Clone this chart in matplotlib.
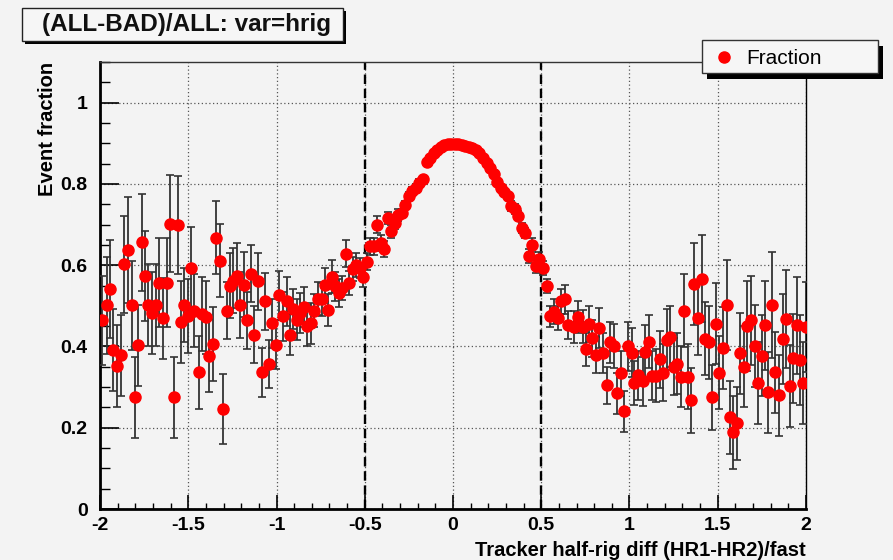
import matplotlib
matplotlib.use('Agg')
import matplotlib.pyplot as plt
from matplotlib.patches import Rectangle
from matplotlib.lines import Line2D
from matplotlib.ticker import MultipleLocator, FuncFormatter

plt.rcParams['font.family'] = ['Liberation Sans', 'DejaVu Sans']
plt.rcParams['axes.unicode_minus'] = False

# fraction per bin of hrig, with statistical errors
xval = [-1.987, -1.962, -1.943, -1.925, -1.902, -1.881, -1.862, -1.843, -1.820, -1.802,
        -1.783, -1.764, -1.745, -1.726, -1.704, -1.681, -1.666, -1.641, -1.622, -1.605,
        -1.582, -1.560, -1.543, -1.524, -1.500, -1.483, -1.466, -1.441, -1.420, -1.400,
        -1.381, -1.361, -1.343, -1.320, -1.301, -1.282, -1.263, -1.245, -1.226, -1.207,
        -1.182, -1.165, -1.144, -1.126, -1.103, -1.084, -1.063, -1.042, -1.024, -1.003,
        -0.984, -0.965, -0.942, -0.924, -0.905, -0.886, -0.867, -0.844, -0.825, -0.805,
        -0.786, -0.767, -0.744, -0.725, -0.707, -0.687, -0.669, -0.646, -0.627, -0.606,
        -0.588, -0.568, -0.550, -0.527, -0.510,
        -0.49, -0.47, -0.45, -0.43, -0.41, -0.39, -0.37, -0.35, -0.33, -0.31,
        -0.29, -0.27, -0.25, -0.23, -0.21, -0.19, -0.17, -0.15, -0.13, -0.11,
        -0.09, -0.07, -0.05, -0.03, -0.01, 0.01, 0.03, 0.05, 0.07, 0.09,
        0.11, 0.13, 0.15, 0.17, 0.19, 0.21, 0.23, 0.25, 0.27, 0.29,
        0.31, 0.33, 0.35, 0.37, 0.39, 0.41, 0.43, 0.45, 0.47, 0.49,
        0.51, 0.53,
        0.550, 0.572, 0.597, 0.610, 0.635, 0.653, 0.683, 0.710, 0.738, 0.752,
        0.769, 0.790, 0.809, 0.828, 0.850, 0.871, 0.890, 0.913, 0.930, 0.951,
        0.971, 0.989, 1.012, 1.026, 1.050, 1.074, 1.088, 1.112, 1.130, 1.149,
        1.170, 1.192, 1.210, 1.232, 1.252, 1.271, 1.290, 1.309, 1.331, 1.350,
        1.365, 1.390, 1.409, 1.426, 1.452, 1.467, 1.489, 1.507, 1.527, 1.551,
        1.568, 1.588, 1.611, 1.626, 1.649, 1.666, 1.687, 1.710, 1.728, 1.748,
        1.768, 1.786, 1.806, 1.825, 1.849, 1.870, 1.887, 1.907, 1.926, 1.947,
        1.966, 1.985, 1.999]

frac = [0.464, 0.501, 0.541, 0.391, 0.352, 0.378, 0.602, 0.638, 0.501, 0.275,
        0.403, 0.656, 0.573, 0.502, 0.482, 0.502, 0.557, 0.469, 0.557, 0.702,
        0.275, 0.699, 0.460, 0.502, 0.475, 0.594, 0.488, 0.336, 0.480, 0.472,
        0.377, 0.406, 0.668, 0.611, 0.246, 0.488, 0.549, 0.562, 0.574, 0.502,
        0.552, 0.464, 0.579, 0.429, 0.560, 0.336, 0.511, 0.357, 0.457, 0.404,
        0.526, 0.474, 0.511, 0.429, 0.492, 0.466, 0.482, 0.497, 0.451, 0.457,
        0.488, 0.518, 0.516, 0.552, 0.490, 0.572, 0.548, 0.531, 0.544, 0.628,
        0.556, 0.590, 0.601, 0.593, 0.572,
        0.609, 0.646, 0.646, 0.700, 0.654, 0.640, 0.716, 0.683, 0.704, 0.724,
        0.728, 0.749, 0.771, 0.782, 0.790, 0.802, 0.812, 0.853, 0.864, 0.875,
        0.884, 0.890, 0.895, 0.897, 0.898, 0.898, 0.897, 0.896, 0.894, 0.891,
        0.888, 0.883, 0.876, 0.864, 0.851, 0.838, 0.825, 0.805, 0.790, 0.779,
        0.770, 0.745, 0.738, 0.722, 0.691, 0.679, 0.623, 0.650, 0.599, 0.615,
        0.593, 0.549,
        0.474, 0.486, 0.470, 0.511, 0.516, 0.453, 0.448, 0.472, 0.449, 0.393,
        0.455, 0.420, 0.379, 0.445, 0.384, 0.304, 0.410, 0.401, 0.285, 0.334,
        0.240, 0.400, 0.385, 0.310, 0.329, 0.314, 0.387, 0.412, 0.328, 0.328,
        0.368, 0.335, 0.417, 0.424, 0.350, 0.357, 0.326, 0.488, 0.326, 0.268,
        0.554, 0.470, 0.567, 0.419, 0.410, 0.275, 0.456, 0.335, 0.396, 0.502,
        0.226, 0.189, 0.211, 0.383, 0.350, 0.450, 0.464, 0.401, 0.310, 0.377,
        0.452, 0.287, 0.502, 0.336, 0.280, 0.418, 0.468, 0.303, 0.371, 0.452,
        0.367, 0.310, 0.448]

ferr = [0.11, 0.12, 0.12, 0.10, 0.10, 0.10, 0.12, 0.13, 0.11, 0.10,
        0.10, 0.12, 0.11, 0.10, 0.10, 0.10, 0.11, 0.10, 0.11, 0.12,
        0.10, 0.12, 0.10, 0.09, 0.09, 0.10, 0.09, 0.09, 0.09, 0.09,
        0.09, 0.09, 0.09, 0.09, 0.085, 0.07, 0.08, 0.08, 0.08, 0.08,
        0.08, 0.07, 0.07, 0.07, 0.07, 0.06, 0.07, 0.06, 0.06, 0.06,
        0.06, 0.06, 0.06, 0.05, 0.05, 0.05, 0.05, 0.05, 0.05, 0.05,
        0.04, 0.04, 0.04, 0.04, 0.04, 0.04, 0.035, 0.035, 0.03, 0.033,
        0.03, 0.03, 0.03, 0.025, 0.025,
        0.02, 0.02, 0.02, 0.02, 0.02, 0.02, 0.015, 0.015, 0.015, 0.015,
        0.01, 0.01, 0.01, 0.01, 0.01, 0.01, 0.005, 0.005, 0.005, 0.005,
        0.005, 0.005, 0.005, 0.005, 0.005, 0.005, 0.005, 0.005, 0.005, 0.005,
        0.005, 0.005, 0.005, 0.005, 0.008, 0.008, 0.008, 0.008, 0.008, 0.008,
        0.008, 0.012, 0.012, 0.012, 0.012, 0.012, 0.018, 0.018, 0.018, 0.018,
        0.018, 0.018,
        0.025, 0.03, 0.03, 0.03, 0.035, 0.035, 0.04, 0.04, 0.04, 0.04,
        0.045, 0.045, 0.045, 0.05, 0.05, 0.045, 0.05, 0.055, 0.05, 0.055,
        0.05, 0.06, 0.06, 0.055, 0.06, 0.06, 0.065, 0.065, 0.06, 0.065,
        0.07, 0.07, 0.075, 0.075, 0.07, 0.075, 0.075, 0.09, 0.08, 0.08,
        0.10, 0.09, 0.107, 0.09, 0.09, 0.08, 0.10, 0.09, 0.10, 0.11,
        0.09, 0.09, 0.09, 0.10, 0.10, 0.11, 0.11, 0.10, 0.10, 0.10,
        0.11, 0.10, 0.13, 0.10, 0.10, 0.11, 0.12, 0.10, 0.11, 0.12,
        0.11, 0.10, 0.11]

cut_lo = -0.5
cut_hi = 0.5

W, H = 893, 560
bg = '#f3f3f3'

def fx(px):
    return px / W

def fy(py):
    return 1 - py / H

fig = plt.figure(figsize=(W / 100, H / 100), dpi=100, facecolor=bg)
ax = fig.add_axes([fx(100), fy(509), fx(706), 447 / H])
ax.set_facecolor(bg)

ax.errorbar(xval, frac, yerr=ferr, fmt='o', color='red', ms=8, mec='red',
            ecolor='#333333', elinewidth=1.3, capsize=2.6, capthick=1.2, zorder=3)

for xc in (cut_lo, cut_hi):
    ax.axvline(xc, color='black', ls=(0, (4, 2)), lw=1.7, zorder=2)

ax.set_xlim(-2, 2)
ax.set_ylim(0, 1.1)
ax.xaxis.set_major_locator(MultipleLocator(0.5))
ax.xaxis.set_minor_locator(MultipleLocator(0.1))
ax.yaxis.set_major_locator(MultipleLocator(0.2))
ax.yaxis.set_minor_locator(MultipleLocator(0.05))
ax.set_yticks([0, 0.2, 0.4, 0.6, 0.8, 1.0])
ax.xaxis.set_major_formatter(FuncFormatter(lambda v, p: '%g' % v))
ax.yaxis.set_major_formatter(FuncFormatter(lambda v, p: '%g' % v))

ax.grid(True, which='major', ls=(0, (1, 2)), color='#555555', lw=0.9, zorder=1)

ax.tick_params(axis='x', which='major', direction='in', length=10, width=1.2,
               labelsize=14, pad=6)
ax.tick_params(axis='x', which='minor', direction='in', length=4.5, width=1.0)
ax.tick_params(axis='y', which='major', direction='in', length=14, width=1.2,
               labelsize=14, pad=9)
ax.tick_params(axis='y', which='minor', direction='in', length=7, width=1.0)
for lab in ax.get_xticklabels() + ax.get_yticklabels():
    lab.set_fontweight('bold')

ax.spines['left'].set_linewidth(2)
ax.spines['bottom'].set_linewidth(2)
ax.spines['top'].set_linewidth(1)
ax.spines['top'].set_color('#333333')
ax.spines['right'].set_linewidth(1)

ax.set_xlabel('Tracker half-rig diff (HR1-HR2)/fast', fontsize=14.5,
              fontweight='bold', loc='right', labelpad=5)
ax.set_ylabel('Event fraction', fontsize=14.5, fontweight='bold', loc='top')
ax.yaxis.set_label_coords((57 - 100) / 706, 1.0)

# title box with shadow
fig.patches.append(Rectangle((fx(25), fy(44)), fx(321), 33 / H, transform=fig.transFigure,
                             facecolor='black', edgecolor='none', zorder=5))
fig.patches.append(Rectangle((fx(22), fy(41)), fx(321), 33 / H, transform=fig.transFigure,
                             facecolor='#f6f6f6', edgecolor='#222222', lw=1, zorder=6))
fig.text(fx(186), fy(25), '(ALL-BAD)/ALL: var=hrig', fontsize=17.5, fontweight='bold',
         ha='center', va='center', color='#111111', zorder=7)

# legend box with shadow
fig.patches.append(Rectangle((fx(707), fy(79)), fx(176), 33 / H, transform=fig.transFigure,
                             facecolor='black', edgecolor='none', zorder=5))
fig.patches.append(Rectangle((fx(702), fy(73)), fx(176), 33 / H, transform=fig.transFigure,
                             facecolor='#f6f6f6', edgecolor='#333333', lw=1, zorder=6))
fig.lines.append(Line2D([fx(724)], [fy(57)], transform=fig.transFigure, marker='o',
                        ms=8, color='red', zorder=7))
fig.text(fx(746), fy(58), 'Fraction', fontsize=15, ha='left', va='center', zorder=7)

fig.savefig('out.png', dpi=100, facecolor=bg)
